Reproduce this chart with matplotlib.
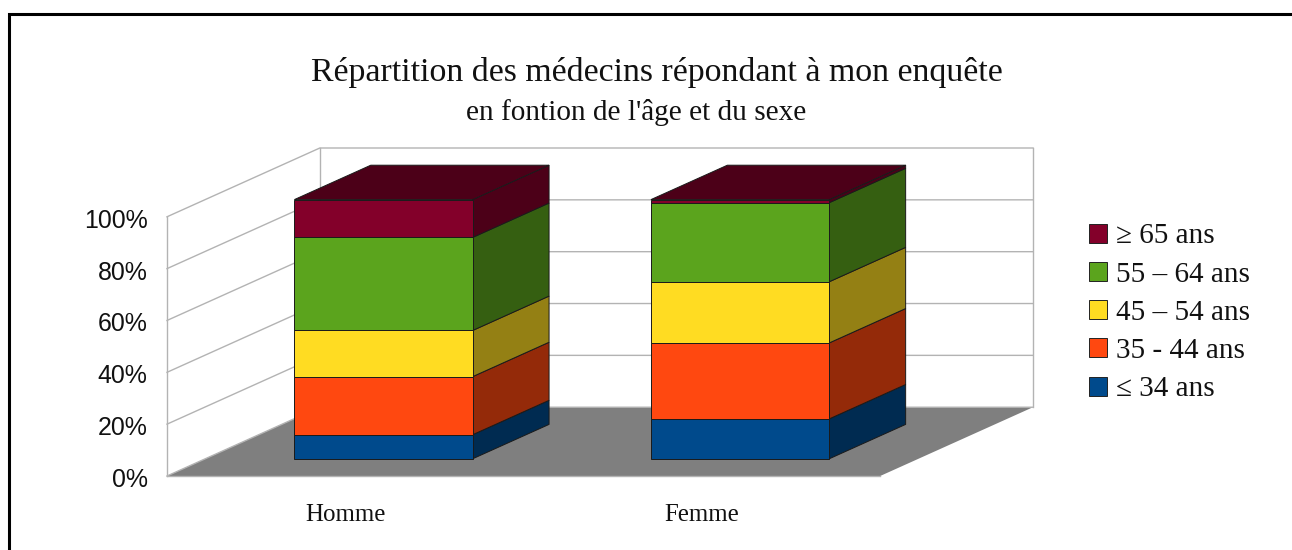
import matplotlib
matplotlib.use("Agg")
import matplotlib.pyplot as plt
from matplotlib.patches import Polygon, Patch
from matplotlib.transforms import ScaledTranslation
import matplotlib.colors as mc
import numpy as np

categories = ["Homme", "Femme"]
series = ["≤ 34 ans", "35 - 44 ans", "45 – 54 ans", "55 – 64 ans", "≥ 65 ans"]
young = [9.3, 15.4]
age35 = [22.4, 29.3]
age45 = [17.8, 23.6]
age55 = [35.9, 30.5]
old = [14.6, 1.2]
values = [young, age35, age45, age55, old]
colors = ["#004a8c", "#ff4810", "#ffdc22", "#5ba41d", "#83002a"]
yticks = [0, 20, 40, 60, 80, 100]
ytick_labels = ["0%", "20%", "40%", "60%", "80%", "100%"]

W, H = 1292, 550
fig = plt.figure(figsize=(W / 100, H / 100), dpi=100, facecolor="white")

# depth offset of the pseudo-3D projection, in data units
DX = 153 / 357
DY = 69 / 2.6
ax = fig.add_axes([167 / W, 1 - 476 / H, (1033 - 167) / W, (476 - 148) / H])
ax.set_xlim(0, 2 + DX)
ax.set_ylim(0, 100 + DY)
ax.patch.set_visible(False)
for s in ax.spines.values():
    s.set_visible(False)


def P(x, y, z):
    return (x + DX * z, y + DY * z)


def dark(c, f):
    return tuple(v * f for v in mc.to_rgb(c))


GRID = "#b3b3b3"
# floor
ax.add_patch(Polygon([P(0, 0, 0), P(2, 0, 0), P(2, 0, 1), P(0, 0, 1)], fc="#7f7f7f", ec="none", zorder=1))
# walls and grid
for v in yticks:
    pts = [P(0, v, 0), P(0, v, 1), P(2, v, 1)]
    ax.plot(*zip(*pts), color=GRID, lw=1.0, zorder=2, clip_on=False)
ax.plot(*zip(P(0, 0, 0), P(0, 100, 0)), color=GRID, lw=1.0, zorder=2, clip_on=False)
ax.plot(*zip(P(0, 0, 1), P(0, 100, 1)), color=GRID, lw=1.0, zorder=0.5, clip_on=False)
ax.plot(*zip(P(2, 0, 1), P(2, 100, 1)), color=GRID, lw=1.0, zorder=2, clip_on=False)
ax.plot(*zip(P(0, 0, 0), P(2, 0, 0)), color=GRID, lw=1.0, zorder=2, clip_on=False)

# stacked bars
BW = 0.5
Z0, Z1 = 0.25, 0.75
EDGE = "#1a1a1a"
LW = 0.7
z = 3
for i in range(len(categories)):
    x0 = i + 0.5 - BW / 2
    x1 = x0 + BW
    base = 0.0
    for vals, c in zip(values, colors):
        top = base + vals[i]
        ax.add_patch(Polygon([P(x1, base, Z0), P(x1, base, Z1), P(x1, top, Z1), P(x1, top, Z0)],
                             fc=dark(c, 0.58), ec=EDGE, lw=LW, zorder=z, clip_on=False))
        ax.add_patch(Polygon([P(x0, base, Z0), P(x1, base, Z0), P(x1, top, Z0), P(x0, top, Z0)],
                             fc=c, ec=EDGE, lw=LW, zorder=z, clip_on=False))
        base = top
    ax.add_patch(Polygon([P(x0, base, Z0), P(x1, base, Z0), P(x1, base, Z1), P(x0, base, Z1)],
                         fc=dark(colors[-1], 0.58), ec=EDGE, lw=LW, zorder=z, clip_on=False))

ax.set_yticks(yticks, ytick_labels, family="Liberation Sans", fontsize=17.9, color="#111111")
ax.set_xticks([0.5, 1.5], categories, family="Liberation Serif", fontsize=17.9, color="#111111")
ax.tick_params(axis="y", length=0, pad=14)
ax.tick_params(axis="x", length=0, pad=20)
shift = ScaledTranslation(0, -1.5 / 100, fig.dpi_scale_trans)
for lab in ax.get_yticklabels():
    lab.set_transform(lab.get_transform() + shift)

# titles
fig.text(656.5 / W, 1 - 72 / H, "Répartition des médecins répondant à mon enquête",
         family="Liberation Serif", fontsize=24.4, ha="center", va="center", color="#111111")
fig.text(636 / W, 1 - 113 / H, "en fontion de l'âge et du sexe",
         family="Liberation Serif", fontsize=21.1, ha="center", va="center", color="#111111")

# legend
handles = [Patch(fc=c, ec="#222222", lw=0.7) for c in colors[::-1]]
fig.legend(handles, series[::-1], loc="upper left", bbox_to_anchor=(1066 / W, 1 - 200 / H),
           frameon=False, prop={"family": "Liberation Serif", "size": 21},
           labelspacing=0.42, handlelength=0.62, handleheight=0.62, handletextpad=0.28,
           borderpad=0.3, labelcolor="#111111")

# outer frame
fig.add_artist(plt.Line2D([9 / W, 9 / W, 1], [0, 1 - 13.5 / H, 1 - 13.5 / H], color="black", lw=2.2,
                          transform=fig.transFigure, solid_joinstyle="miter"))

fig.savefig("out.png", dpi=100)
